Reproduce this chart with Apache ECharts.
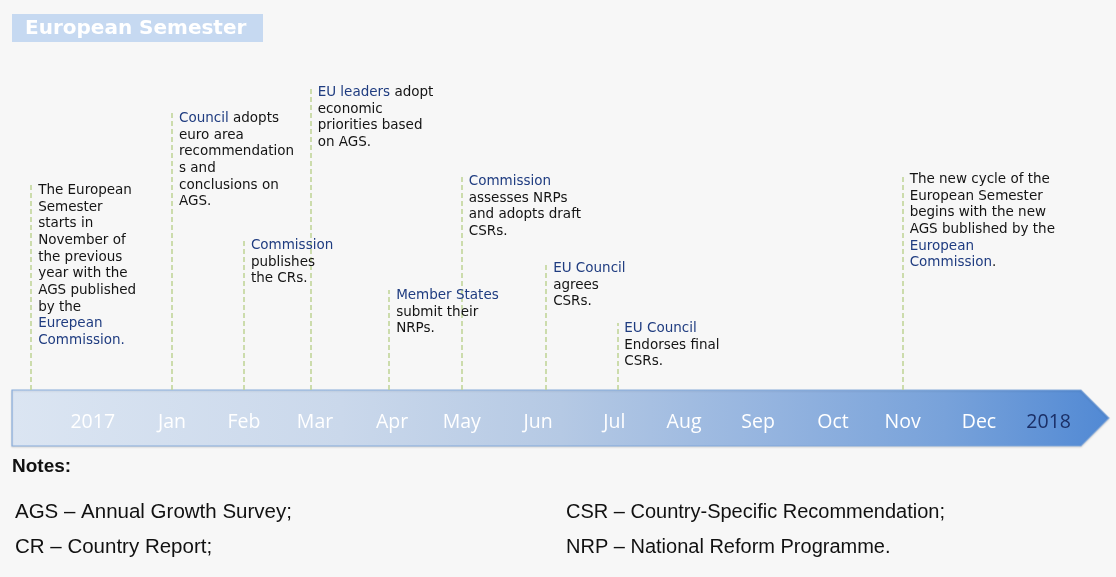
<!DOCTYPE html>
<html>
<head>
<meta charset="utf-8">
<script src="https://cdn.jsdelivr.net/npm/echarts@6/dist/echarts.min.js"></script>
<style>
html, body { margin: 0; padding: 0; background: #f7f7f7; }
#timeline { width: 1116px; height: 577px; }
</style>
</head>
<body>
<div id="timeline"></div>
<script>
// months along the arrow (x in month units, Jan = 1)
var monthNames = ['2017', 'Jan', 'Feb', 'Mar', 'Apr', 'May', 'Jun', 'Jul', 'Aug', 'Sep', 'Oct', 'Nov', 'Dec', '2018'];
var monthPos = [-0.08, 1, 1.98, 2.95, 4, 4.95, 5.99, 7.03, 7.98, 8.99, 10.01, 10.96, 12, 12.95];

// events: where the stem stands and how tall it is
var eventPos = [-0.92, 1, 1.98, 2.89, 3.96, 4.95, 6.10, 7.07, 10.96];
var eventHeight = [205, 277, 150, 303, 100, 214, 127, 67, 216];
var eventText = [
    'The European\nSemester\nstarts in\nNovember of\nthe previous\nyear with the\nAGS published\nby the\n{b|Eurepean}\n{b|Commission.}',
    '{b|Council} adopts\neuro area\nrecommendation\ns and\nconclusions on\nAGS.',
    '{b|Commission}\npublishes\nthe CRs.',
    '{b|EU leaders} adopt\neconomic\npriorities based\non AGS.',
    '{b|Member States}\nsubmit their\nNRPs.',
    '{b|Commission}\nassesses NRPs\nand adopts draft\nCSRs.',
    '{b|EU Council}\nagrees\nCSRs.',
    '{b|EU Council}\nEndorses final\nCSRs.',
    'The new cycle of the\nEuropean Semester\nbegins with the new\nAGS bublished by the\n{b|European}\n{b|Commission}.'
];

var notesLeft = ['AGS \u2013 Annual Growth Survey;', 'CR \u2013 Country Report;'];
var notesRight = ['CSR \u2013 Country-Specific Recommendation;', 'NRP \u2013 National Reform Programme.'];

var chart = echarts.init(document.getElementById('timeline'));

var monthData = [];
for (var i = 0; i < monthNames.length; i++) {
    monthData.push({
        value: [monthPos[i], -32],
        label: { color: i == monthNames.length - 1 ? '#1b2f66' : '#ffffff' }
    });
}

var eventData = [];
var stems = [];
for (var j = 0; j < eventPos.length; j++) {
    eventData.push([eventPos[j], eventHeight[j]]);
    stems.push([{ coord: [eventPos[j], 0] }, { coord: [eventPos[j], eventHeight[j]] }]);
}

var bodyFont = { fontFamily: 'DejaVu Sans', fontSize: 13.5, lineHeight: 16.7 };

chart.setOption({
    animation: false,
    backgroundColor: '#f7f7f7',
    grid: { left: 10.6, right: 5, top: 60, bottom: 127 },
    xAxis: { type: 'value', min: -1.2, max: 13.8, show: false },
    yAxis: { type: 'value', min: -60, max: 330, show: false },
    graphic: [
        {
            type: 'rect', z: 0,
            shape: { x: 12, y: 14, width: 251, height: 28 },
            style: { fill: '#c6d9f1' }
        },
        {
            type: 'text', z: 1, x: 25, y: 29,
            style: {
                text: 'European Semester', fill: '#ffffff',
                font: 'bold 20px "DejaVu Sans"', verticalAlign: 'middle'
            }
        },
        {
            type: 'polygon', z: 0,
            shape: { points: [[12, 390], [1081, 390], [1109, 418], [1081, 446], [12, 446]] },
            style: {
                fill: new echarts.graphic.LinearGradient(0, 0, 1, 0, [
                    { offset: 0, color: '#dbe5f2' },
                    { offset: 0.3, color: '#cad8eb' },
                    { offset: 0.5, color: '#b5c9e4' },
                    { offset: 0.7, color: '#93b3df' },
                    { offset: 0.85, color: '#78a2da' },
                    { offset: 1, color: '#5189d4' }
                ]),
                stroke: 'rgba(130,168,220,0.9)', lineWidth: 1.2,
                shadowColor: 'rgba(0,0,0,0.12)', shadowBlur: 2, shadowOffsetY: 1
            }
        },
        {
            type: 'text', x: 12, y: 467,
            style: { text: 'Notes:', fill: '#111', font: 'bold 19px "Liberation Sans"', verticalAlign: 'middle' }
        },
        {
            type: 'text', x: 15, y: 512,
            style: { text: notesLeft[0], fill: '#111', font: '20.5px "Liberation Sans"', verticalAlign: 'middle' }
        },
        {
            type: 'text', x: 15, y: 547,
            style: { text: notesLeft[1], fill: '#111', font: '20.5px "Liberation Sans"', verticalAlign: 'middle' }
        },
        {
            type: 'text', x: 566, y: 512,
            style: { text: notesRight[0], fill: '#111', font: '20px "Liberation Sans"', verticalAlign: 'middle' }
        },
        {
            type: 'text', x: 566, y: 547,
            style: { text: notesRight[1], fill: '#111', font: '20px "Liberation Sans"', verticalAlign: 'middle' }
        }
    ],
    series: [
        {
            name: 'months',
            type: 'scatter',
            z: 5,
            symbolSize: 0,
            itemStyle: { opacity: 1 },
            data: monthData,
            label: {
                show: true,
                position: 'inside',
                align: 'center',
                verticalAlign: 'middle',
                fontFamily: 'Open Sans',
                fontSize: 19.5,
                formatter: function (p) {
                    return monthNames[p.dataIndex];
                }
            }
        },
        {
            name: 'events',
            type: 'scatter',
            z: 5,
            symbolSize: 0,
            itemStyle: { opacity: 1 },
            data: eventData,
            label: {
                show: true,
                position: [7, -3],
                align: 'left',
                verticalAlign: 'top',
                color: '#141414',
                fontFamily: bodyFont.fontFamily,
                fontSize: bodyFont.fontSize,
                lineHeight: bodyFont.lineHeight,
                formatter: function (p) {
                    return eventText[p.dataIndex];
                },
                rich: {
                    b: {
                        color: '#1f3c80',
                        fontFamily: bodyFont.fontFamily,
                        fontSize: bodyFont.fontSize,
                        lineHeight: bodyFont.lineHeight
                    }
                }
            },
            markLine: {
                silent: true,
                symbol: ['none', 'none'],
                label: { show: false },
                lineStyle: { color: '#bfd494', type: [5, 3], width: 1.5, opacity: 1 },
                data: stems
            }
        }
    ]
});
</script>
</body>
</html>
